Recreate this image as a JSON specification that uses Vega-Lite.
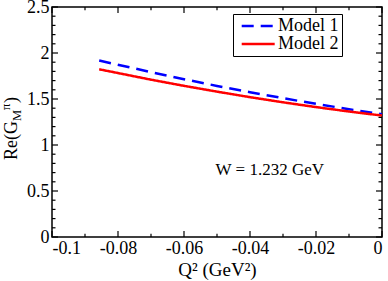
{
  "$schema": "https://vega.github.io/schema/vega-lite/v6.json",
  "width": 330,
  "height": 230,
  "autosize": {"type": "none"},
  "padding": {"left": 52, "top": 7, "right": 6, "bottom": 44},
  "background": "white",
  "config": {
    "view": {"stroke": "black", "strokeWidth": 1.5},
    "font": "Liberation Serif",
    "axis": {
      "grid": false,
      "domain": false,
      "labelFont": "Liberation Serif",
      "titleFont": "Liberation Serif",
      "labelColor": "black",
      "titleColor": "black",
      "labelFontSize": 18,
      "titleFontSize": 19,
      "titleFontWeight": "normal"
    },
    "legend": {
      "labelFont": "Liberation Serif",
      "labelFontSize": 18,
      "labelColor": "black",
      "strokeColor": "black",
      "fillColor": "white",
      "padding": 3,
      "rowPadding": 0,
      "symbolType": "M-0.6,0H5.4",
      "symbolSize": 121,
      "symbolStrokeWidth": 2.5,
      "labelOffset": 24
    }
  },
  "layer": [
    {
      "data": {"values": [
        {"model": "Model 1", "q2": -0.0857, "v": 1.918},
        {"model": "Model 1", "q2": -0.07, "v": 1.792},
        {"model": "Model 1", "q2": -0.06, "v": 1.715},
        {"model": "Model 1", "q2": -0.05, "v": 1.642},
        {"model": "Model 1", "q2": -0.04, "v": 1.574},
        {"model": "Model 1", "q2": -0.03, "v": 1.509},
        {"model": "Model 1", "q2": -0.02, "v": 1.447},
        {"model": "Model 1", "q2": -0.01, "v": 1.389},
        {"model": "Model 1", "q2": 0, "v": 1.335},
        {"model": "Model 2", "q2": -0.0857, "v": 1.823},
        {"model": "Model 2", "q2": -0.07, "v": 1.71},
        {"model": "Model 2", "q2": -0.06, "v": 1.643},
        {"model": "Model 2", "q2": -0.05, "v": 1.58},
        {"model": "Model 2", "q2": -0.04, "v": 1.52},
        {"model": "Model 2", "q2": -0.03, "v": 1.464},
        {"model": "Model 2", "q2": -0.02, "v": 1.412},
        {"model": "Model 2", "q2": -0.01, "v": 1.364},
        {"model": "Model 2", "q2": 0, "v": 1.32}
      ]},
      "mark": {"type": "line", "strokeWidth": 2.5, "clip": true},
      "encoding": {
        "x": {
          "field": "q2", "type": "quantitative",
          "scale": {"domain": [-0.1, 0], "nice": false},
          "axis": {
            "orient": "bottom",
            "values": [-0.1, -0.08, -0.06, -0.04, -0.02, 0],
            "ticks": false,
            "labelPadding": 2,
            "labelExpr": "replace(format(datum.value, '~g'), '−', '-')",
            "title": "Q² (GeV²)",
            "titlePadding": 3
          }
        },
        "y": {
          "field": "v", "type": "quantitative",
          "scale": {"domain": [0, 2.5], "nice": false},
          "axis": {
            "orient": "left",
            "values": [0, 0.5, 1, 1.5, 2, 2.5],
            "ticks": false,
            "labelPadding": 3,
            "labelExpr": "replace(format(datum.value, '~g'), '−', '-')",
            "title": null
          }
        },
        "color": {
          "field": "model", "type": "nominal",
          "scale": {"domain": ["Model 1", "Model 2"], "range": ["#0000ff", "#ff0000"]},
          "legend": {"title": null, "orient": "none", "legendX": 181, "legendY": 7}
        },
        "strokeDash": {
          "field": "model", "type": "nominal",
          "scale": {"domain": ["Model 1", "Model 2"], "range": [[12, 7], [1, 0]]},
          "legend": {"title": null, "orient": "none", "legendX": 181, "legendY": 7}
        }
      }
    },
    {
      "data": {"values": [
        {"t": -0.1, "a": 0, "e": 0.065}, {"t": -0.09, "a": 0, "e": 0.035}, {"t": -0.08, "a": 0, "e": 0.065}, {"t": -0.07, "a": 0, "e": 0.035},
        {"t": -0.06, "a": 0, "e": 0.065}, {"t": -0.05, "a": 0, "e": 0.035}, {"t": -0.04, "a": 0, "e": 0.065}, {"t": -0.03, "a": 0, "e": 0.035},
        {"t": -0.02, "a": 0, "e": 0.065}, {"t": -0.01, "a": 0, "e": 0.035}, {"t": 0, "a": 0, "e": 0.065},
        {"t": -0.1, "a": 2.5, "e": 2.435}, {"t": -0.09, "a": 2.5, "e": 2.465}, {"t": -0.08, "a": 2.5, "e": 2.435}, {"t": -0.07, "a": 2.5, "e": 2.465},
        {"t": -0.06, "a": 2.5, "e": 2.435}, {"t": -0.05, "a": 2.5, "e": 2.465}, {"t": -0.04, "a": 2.5, "e": 2.435}, {"t": -0.03, "a": 2.5, "e": 2.465},
        {"t": -0.02, "a": 2.5, "e": 2.435}, {"t": -0.01, "a": 2.5, "e": 2.465}, {"t": 0, "a": 2.5, "e": 2.435}
      ]},
      "mark": {"type": "rule", "color": "black", "strokeWidth": 1.2},
      "encoding": {
        "x": {"field": "t", "type": "quantitative"},
        "y": {"field": "a", "type": "quantitative"},
        "y2": {"field": "e"}
      }
    },
    {
      "data": {"values": [
        {"t": 0, "a": -0.1, "e": -0.09818}, {"t": 0.1, "a": -0.1, "e": -0.09894}, {"t": 0.2, "a": -0.1, "e": -0.09894}, {"t": 0.3, "a": -0.1, "e": -0.09894}, {"t": 0.4, "a": -0.1, "e": -0.09894},
        {"t": 0.5, "a": -0.1, "e": -0.09818}, {"t": 0.6, "a": -0.1, "e": -0.09894}, {"t": 0.7, "a": -0.1, "e": -0.09894}, {"t": 0.8, "a": -0.1, "e": -0.09894}, {"t": 0.9, "a": -0.1, "e": -0.09894},
        {"t": 1, "a": -0.1, "e": -0.09818}, {"t": 1.1, "a": -0.1, "e": -0.09894}, {"t": 1.2, "a": -0.1, "e": -0.09894}, {"t": 1.3, "a": -0.1, "e": -0.09894}, {"t": 1.4, "a": -0.1, "e": -0.09894},
        {"t": 1.5, "a": -0.1, "e": -0.09818}, {"t": 1.6, "a": -0.1, "e": -0.09894}, {"t": 1.7, "a": -0.1, "e": -0.09894}, {"t": 1.8, "a": -0.1, "e": -0.09894}, {"t": 1.9, "a": -0.1, "e": -0.09894},
        {"t": 2, "a": -0.1, "e": -0.09818}, {"t": 2.1, "a": -0.1, "e": -0.09894}, {"t": 2.2, "a": -0.1, "e": -0.09894}, {"t": 2.3, "a": -0.1, "e": -0.09894}, {"t": 2.4, "a": -0.1, "e": -0.09894},
        {"t": 2.5, "a": -0.1, "e": -0.09818},
        {"t": 0, "a": 0, "e": -0.00182}, {"t": 0.1, "a": 0, "e": -0.00106}, {"t": 0.2, "a": 0, "e": -0.00106}, {"t": 0.3, "a": 0, "e": -0.00106}, {"t": 0.4, "a": 0, "e": -0.00106},
        {"t": 0.5, "a": 0, "e": -0.00182}, {"t": 0.6, "a": 0, "e": -0.00106}, {"t": 0.7, "a": 0, "e": -0.00106}, {"t": 0.8, "a": 0, "e": -0.00106}, {"t": 0.9, "a": 0, "e": -0.00106},
        {"t": 1, "a": 0, "e": -0.00182}, {"t": 1.1, "a": 0, "e": -0.00106}, {"t": 1.2, "a": 0, "e": -0.00106}, {"t": 1.3, "a": 0, "e": -0.00106}, {"t": 1.4, "a": 0, "e": -0.00106},
        {"t": 1.5, "a": 0, "e": -0.00182}, {"t": 1.6, "a": 0, "e": -0.00106}, {"t": 1.7, "a": 0, "e": -0.00106}, {"t": 1.8, "a": 0, "e": -0.00106}, {"t": 1.9, "a": 0, "e": -0.00106},
        {"t": 2, "a": 0, "e": -0.00182}, {"t": 2.1, "a": 0, "e": -0.00106}, {"t": 2.2, "a": 0, "e": -0.00106}, {"t": 2.3, "a": 0, "e": -0.00106}, {"t": 2.4, "a": 0, "e": -0.00106},
        {"t": 2.5, "a": 0, "e": -0.00182}
      ]},
      "mark": {"type": "rule", "color": "black", "strokeWidth": 1.2},
      "encoding": {
        "y": {"field": "t", "type": "quantitative"},
        "x": {"field": "a", "type": "quantitative"},
        "x2": {"field": "e"}
      }
    },
    {
      "data": {"values": [
        {"tx": -0.034, "ty": 0.674, "label": "W = 1.232 GeV"}
      ]},
      "mark": {"type": "text", "font": "Liberation Serif", "fontSize": 17, "align": "center", "baseline": "alphabetic", "color": "black"},
      "encoding": {
        "x": {"field": "tx", "type": "quantitative"},
        "y": {"field": "ty", "type": "quantitative"},
        "text": {"field": "label"}
      }
    },
    {
      "data": {"values": [
        {"tx": -0.11061, "ty": 0.837, "label": "Re(G"},
        {"tx": -0.11061, "ty": 1.457, "label": ")"}
      ]},
      "mark": {"type": "text", "font": "Liberation Serif", "fontSize": 18, "angle": 270, "align": "left", "baseline": "alphabetic", "color": "black"},
      "encoding": {
        "x": {"field": "tx", "type": "quantitative"},
        "y": {"field": "ty", "type": "quantitative"},
        "text": {"field": "label"}
      }
    },
    {
      "data": {"values": [
        {"tx": -0.10939, "ty": 1.261, "label": "M"},
        {"tx": -0.11273, "ty": 1.38, "label": "π"}
      ]},
      "mark": {"type": "text", "font": "Liberation Serif", "fontSize": 12.5, "angle": 270, "align": "left", "baseline": "alphabetic", "color": "black"},
      "encoding": {
        "x": {"field": "tx", "type": "quantitative"},
        "y": {"field": "ty", "type": "quantitative"},
        "text": {"field": "label"}
      }
    }
  ]
}
